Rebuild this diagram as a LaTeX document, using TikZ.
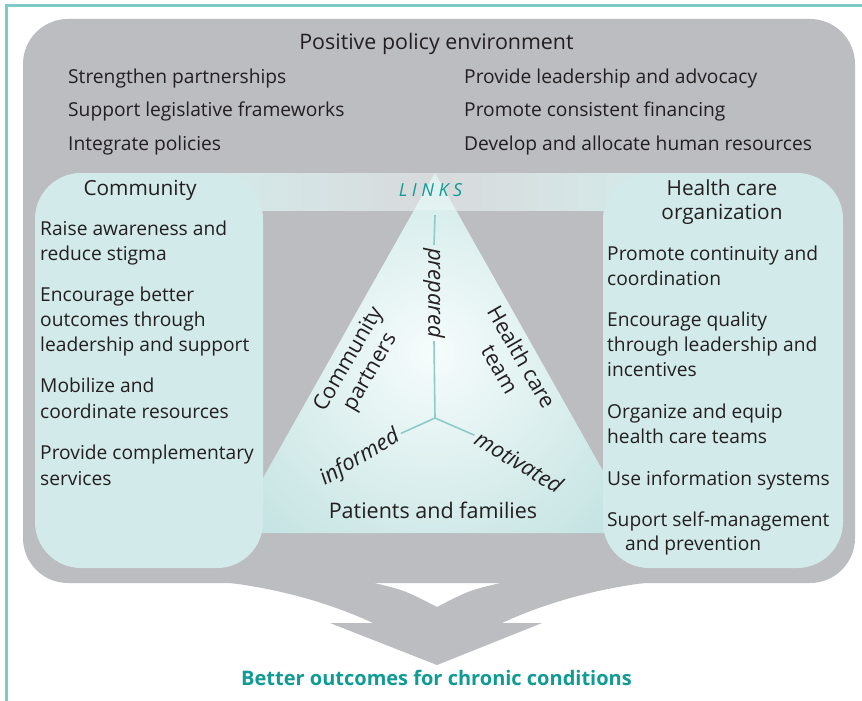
\documentclass[tikz,border=0pt]{standalone}
\usepackage{fontspec}
\setmainfont{Open Sans}
\definecolor{frameteal}{HTML}{7CCBC6}
\definecolor{envgray}{HTML}{BCBDC1}
\definecolor{boxteal}{HTML}{D3EAEA}
\definecolor{linkteal}{HTML}{109C94}
\definecolor{txt}{HTML}{231F20}
\definecolor{triteal}{HTML}{A7D5D3}
\definecolor{triwhite}{HTML}{F6FCFC}
\definecolor{spokecol}{HTML}{8DCBC9}
\definecolor{bandteal}{HTML}{D5E8E8}
\definecolor{bandgray}{HTML}{D8DADC}
\begin{document}
\begin{tikzpicture}[x=1pt,y=-1pt,
  body/.style={font=\fontsize{19.2}{25}\selectfont, text=txt, inner sep=0pt, anchor=base west},
  head/.style={font=\fontsize{20.8}{25}\selectfont, text=txt, inner sep=0pt, anchor=base},
  tlabel/.style={font=\fontsize{21.5}{25}\selectfont, text=txt, inner sep=3pt, align=center},
  tword/.style={font=\fontsize{22}{25}\selectfont\itshape, text=txt, inner sep=3pt},
  spoke/.style={draw=spokecol, line width=1.6pt}]
\useasboundingbox (0,0) rectangle (862,701);
\fill[white] (0,0) rectangle (862,701);

% page frame: top and left rule
\draw[frameteal, line width=2.5pt] (6.3,701) -- (6.3,5.3) -- (862,5.3);

% policy environment panel and its outcome arrow
\fill[envgray, rounded corners=45pt] (23,19) rectangle (855,583);
\fill[envgray] (222,582) .. controls (277,588) and (330,603) .. (373,623)
  -- (330,623) -- (437,665) -- (542,623) -- (502,623)
  .. controls (545,603) and (598,588) .. (653,582)
  -- (505,582) .. controls (470,590) .. (437,607)
  .. controls (404,590) .. (370,582) -- cycle;

% LINKS band, tucked under the inner corners of the side panels
\fill[bandteal] (215,173) rectangle (241,210);
\fill[bandteal] (625,173) rectangle (650,210);
\shade[left color=bandteal, right color=bandteal, middle color=bandgray] (240,173) rectangle (626,210);

% central triangle
\coordinate (apex) at (435,173);
\coordinate (baseL) at (232,533);
\coordinate (baseR) at (638,533);
\begin{scope}
  \clip (apex) -- (baseR) -- (baseL) -- cycle;
  \shade[inner color=triwhite, outer color=triteal] (432,352) circle[radius=390pt];
  \fill[white, opacity=0.3] (200,173) rectangle (680,210);
\end{scope}

\node[font=\fontsize{18}{20}\selectfont\itshape, text=linkteal, inner sep=0pt, anchor=base] (links) at (430.5,196)
  {L\kern4.5pt I\kern4.5pt N\kern4.5pt K\kern4.5pt S};

% triangle labels and spokes
\coordinate (hub) at (435,418);
\coordinate (spokeTop) at (435,215);
\node[tword, rotate=-90] (prep) at (434,293) {prepared};
\node[tlabel, rotate=60] (commp) at (360,366) {Community\\partners};
\node[tlabel, rotate=-60] (hct) at (511,363) {Health care\\team};
\node[tword, rotate=31] (inf) at (360,458) {informed};
\node[tword, rotate=-31] (mot) at (519,462) {motivated};
\node[tlabel] (pf) at (433,510) {Patients and families};
\draw[spoke] (spokeTop) -- (prep.west);
\draw[spoke] (prep.east) -- (hub);
\draw[spoke] (hub) -- (inf.east);
\draw[spoke] (hub) -- (mot.west);

% side panels
\fill[boxteal, rounded corners=46pt] (35,173) rectangle (263,568);
\fill[boxteal, rounded corners=46pt] (603,173) rectangle (843,568);

% policy environment texts
\node[head, font=\fontsize{21.4}{25}\selectfont] (policy) at (436.5,50) {Positive policy environment};
\foreach \n/\y/\t in {pl1/83.3/Strengthen partnerships, pl2/116.7/Support legislative frameworks, pl3/150/Integrate policies}
  \node[body] (\n) at (68,\y) {\t};
\foreach \n/\y/\t in {pr1/83.3/Provide leadership and advocacy, pr2/116.7/Promote consistent financing, pr3/150/Develop and allocate human resources}
  \node[body] (\n) at (464,\y) {\t};

% community panel texts
\node[head] (community) at (140,195) {Community};
\foreach \n/\y/\t in {c1/235/Raise awareness and, c2/260/reduce stigma,
    c3/301.7/Encourage better, c4/326.7/outcomes through, c5/351.7/leadership and support,
    c6/392.7/Mobilize and, c7/418.3/coordinate resources,
    c8/459.3/Provide complementary, c9/485/services}
  \node[body] (\n) at (40,\y) {\t};

% health care organization panel texts
\node[head] (hco1) at (722,195) {Health care};
\node[head] (hco2) at (722,219) {organization};
\foreach \n/\y/\t in {h1/260/Promote continuity and, h2/285/coordination,
    h3/326.7/Encourage quality, h4/351.7/through leadership and, h5/376.7/incentives,
    h6/418.3/Organize and equip, h7/443.3/health care teams,
    h8/485/Use information systems, h9/526.7/Suport self-management}
  \node[body] (\n) at (607,\y) {\t};
\node[body] (h10) at (625,550) {and prevention};

% outcome
\node[font=\fontsize{20}{24}\selectfont\bfseries, text=linkteal, inner sep=0pt, anchor=base] (outcome) at (436.5,685)
  {Better outcomes for chronic conditions};
\end{tikzpicture}
\end{document}
